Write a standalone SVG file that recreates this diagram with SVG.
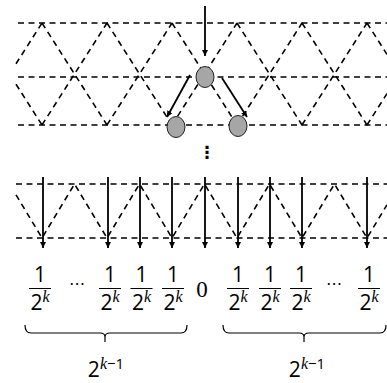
<svg xmlns="http://www.w3.org/2000/svg" width="387" height="383" viewBox="0 0 387 383">
<style>
.grid{fill:none;stroke:#000;stroke-width:1.6;stroke-dasharray:6 4.5}
.arr{fill:none;stroke:#000;stroke-width:1.8;marker-end:url(#ah)}
.node{fill:#a6a6a6;stroke:#222;stroke-width:1}
.num{font-family:"Open Sans","Liberation Sans",sans-serif;font-size:21px;text-anchor:middle;fill:#000}
.den{font-family:"Open Sans","Liberation Sans",sans-serif;font-size:21px;text-anchor:middle;fill:#000}
.sup{font-family:"Liberation Serif",serif;font-style:italic;font-size:16px}
.supn{font-family:"Open Sans","Liberation Sans",sans-serif;font-size:15px}
.bar{stroke:#000;stroke-width:1}
.zero{font-family:"Liberation Serif",serif;font-size:23px;text-anchor:middle;fill:#000}
.dots{font-family:"DejaVu Sans",sans-serif;font-size:16px;text-anchor:middle;fill:#000}
.vdots{font-family:"DejaVu Sans",sans-serif;font-size:17px;font-weight:bold;text-anchor:middle;fill:#000}
.brace{fill:none;stroke:#000;stroke-width:1.2}
</style>
<defs>
<marker id="ah" markerUnits="userSpaceOnUse" markerWidth="7" markerHeight="7" refX="6" refY="3" orient="auto">
<path d="M0,0 L6,3 L0,6 z" fill="#000"/>
</marker>
</defs>
<g id="grid-top">
<path class="grid" d="M18,23 H387 M18,77 H387 M18,125 H387"/>
<path class="grid" d="M16,84.2 L42,125 M42,23 L107,125 M107,23 L172,125 M172,23 L237,125 M237,23 L302,125 M302,23 L367,125 M367,23 L387,54.4"/>
<path class="grid" d="M16,63.8 L42,23 M42,125 L107,23 M107,125 L172,23 M172,125 L237,23 M237,125 L302,23 M302,125 L367,23 M367,125 L387,93.6"/>
</g>
<g id="grid-bottom">
<path class="grid" d="M16,184 H387 M16,238 H387"/>
<path class="grid" d="M16,194.8 L42,238 L74.5,184 L107,238 L139.5,184 L172,238 L204.5,184 L237,238 L269.5,184 L302,238 L334.5,184 L367,238 L387,204.8"/>
</g>
<g id="connectors">
<line class="arr" x1="205" y1="6" x2="205" y2="56"/>
<line class="arr" x1="190" y1="75" x2="167" y2="117"/>
<line class="arr" x1="222" y1="78" x2="247" y2="117"/>
<line class="arr" x1="43" y1="177" x2="43" y2="248"/>
<line class="arr" x1="108" y1="177" x2="108" y2="248"/>
<line class="arr" x1="140" y1="177" x2="140" y2="248"/>
<line class="arr" x1="172" y1="177" x2="172" y2="248"/>
<line class="arr" x1="205" y1="177" x2="205" y2="248"/>
<line class="arr" x1="238" y1="177" x2="238" y2="248"/>
<line class="arr" x1="270" y1="177" x2="270" y2="248"/>
<line class="arr" x1="302" y1="177" x2="302" y2="248"/>
<line class="arr" x1="367" y1="177" x2="367" y2="248"/>
</g>
<g id="node-top"><ellipse class="node" cx="205" cy="77" rx="9" ry="10.5"/></g>
<g id="node-left"><ellipse class="node" cx="176" cy="127" rx="9" ry="10.5"/></g>
<g id="node-right"><ellipse class="node" cx="238" cy="126" rx="9" ry="10.5"/></g>
<text class="vdots" x="207" y="158">⋮</text>
<g id="values">
<g><text class="num" x="40" y="282">1</text><line class="bar" x1="29" y1="288.5" x2="51" y2="288.5"/><text class="den" x="40" y="310">2<tspan class="sup" dy="-8">k</tspan></text></g>
<text class="dots" x="77" y="289">⋯</text>
<g><text class="num" x="110" y="282">1</text><line class="bar" x1="99" y1="288.5" x2="121" y2="288.5"/><text class="den" x="110" y="310">2<tspan class="sup" dy="-8">k</tspan></text></g>
<g><text class="num" x="141.5" y="282">1</text><line class="bar" x1="130.5" y1="288.5" x2="152.5" y2="288.5"/><text class="den" x="141.5" y="310">2<tspan class="sup" dy="-8">k</tspan></text></g>
<g><text class="num" x="173" y="282">1</text><line class="bar" x1="162" y1="288.5" x2="184" y2="288.5"/><text class="den" x="173" y="310">2<tspan class="sup" dy="-8">k</tspan></text></g>
<text class="zero" x="202" y="297">0</text>
<g><text class="num" x="238" y="282">1</text><line class="bar" x1="227" y1="288.5" x2="249" y2="288.5"/><text class="den" x="238" y="310">2<tspan class="sup" dy="-8">k</tspan></text></g>
<g><text class="num" x="270" y="282">1</text><line class="bar" x1="259" y1="288.5" x2="281" y2="288.5"/><text class="den" x="270" y="310">2<tspan class="sup" dy="-8">k</tspan></text></g>
<g><text class="num" x="301" y="282">1</text><line class="bar" x1="290" y1="288.5" x2="312" y2="288.5"/><text class="den" x="301" y="310">2<tspan class="sup" dy="-8">k</tspan></text></g>
<text class="dots" x="334" y="289">⋯</text>
<g><text class="num" x="369" y="282">1</text><line class="bar" x1="358" y1="288.5" x2="380" y2="288.5"/><text class="den" x="369" y="310">2<tspan class="sup" dy="-8">k</tspan></text></g>
</g>
<g id="brace-left">
<path class="brace" d="M25,325 C25,331 27,333 31,333 L100,333 C103,333 105,334 105,337 L105,342 M105,337 C105,334 107,333 110,333 L181,333 C185,333 187,331 187,325"/>
<text class="den" x="106" y="377">2<tspan class="sup" dy="-8">k</tspan><tspan class="supn">−1</tspan></text>
</g>
<g id="brace-right">
<path class="brace" d="M223,325 C223,331 225,333 229,333 L299,333 C302,333 304,334 304,337 L304,342 M304,337 C304,334 306,333 309,333 L380,333 C384,333 386,331 386,325"/>
<text class="den" x="307" y="377">2<tspan class="sup" dy="-8">k</tspan><tspan class="supn">−1</tspan></text>
</g>
</svg>
